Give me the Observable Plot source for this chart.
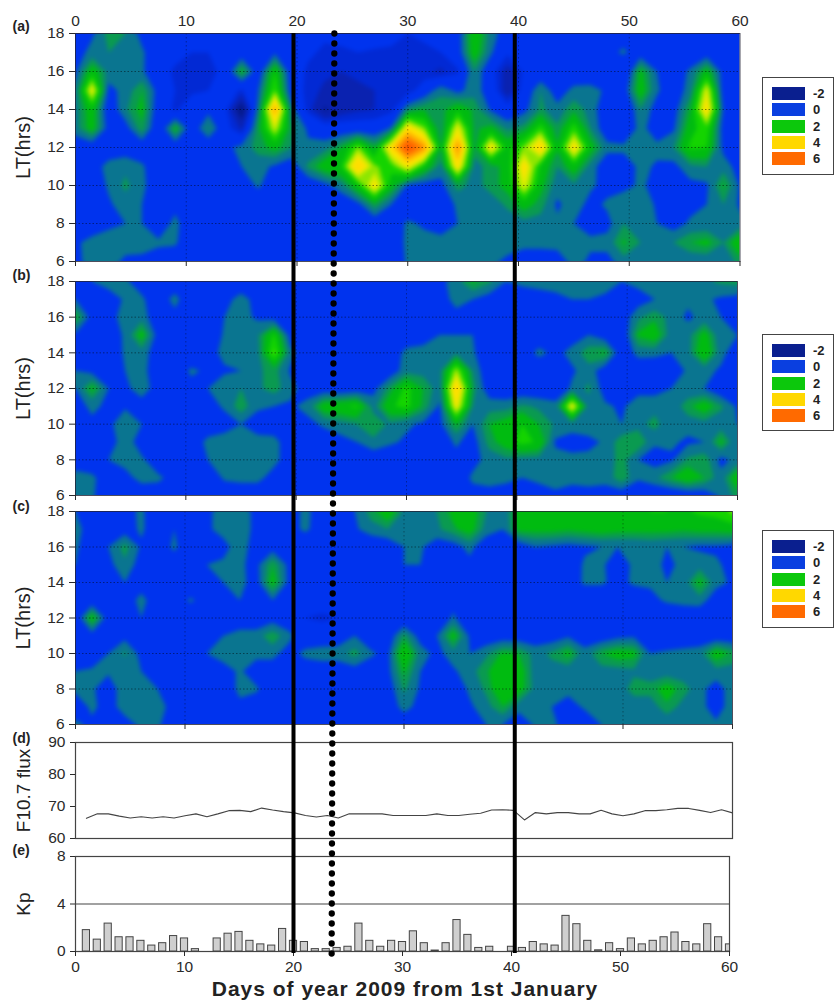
<!DOCTYPE html>
<html>
<head>
<meta charset="utf-8">
<script src="https://cdn.jsdelivr.net/npm/d3@7"></script>
<script src="https://cdn.jsdelivr.net/npm/@observablehq/plot@0.6"></script>
<style>
html,body{margin:0;padding:0;background:#fff}
#page{position:relative;width:837px;height:1002px;overflow:hidden;font-family:"Liberation Sans",Arial,sans-serif}
#page svg{position:absolute;left:0;background:transparent;overflow:visible}
.legend{position:absolute;left:762px;width:72px;box-sizing:border-box;border:1.5px solid #444;background:#fff}
.legend div{position:absolute;left:9px;width:33px;height:13px}
.legend span{position:absolute;left:50px;font-size:13px;line-height:13px;color:#222;font-weight:bold}
#xtitle{position:absolute;left:0;width:810px;text-align:center;top:977px;font-size:21px;letter-spacing:1px;font-weight:bold;color:#222}
</style>
</head>
<body>
<div id="page"></div>
<script>
// Grid: 41 columns from day 0 to day 60 (every 1.5 days); 13 rows from 18 LT down to 6 LT
const gridColumns = 41;
const gridRows = 13;
const dayTicks = [0,10,20,30,40,50,60];
const hourTicks = [6,8,10,12,14,16,18];
const fluxTicks = [60,70,80,90];
const kpTicks = [0,4,8];
const legendLabels = ["-2","0","2","4","6"];
const legendColors = ["#0a1f8f","#0a3fe0","#0cc80c","#ffd800","#ff6a00"];
const levelFloor = -3;
const levelBreaks = [-1.2,-.6,-.2,.7,1.2,1.6,2.2,2.7,3.1,3.5,4.3,5,5.7];
const levelColors = ["#051a8c","#0a22b0","#0229d4","#0033ee","#0a7590","#0a9a50","#00bb10","#14d400","#8ee600","#d8ee00","#ffe000","#ffb000","#ff7a00","#ff5a00"];

const panelA = [
[.3,.6,1.4,1.2,.5,.2,.2,0,-.1,0, .1,.1,.2,.1,0,-.1,0,.2,.2,0, -.2,-.1,0,.3,2.2,1,.3,.1,0,0, 0,0,.2,.4,.1,.1,.1,.1,.3,.3, .3],
[.4,.9,1.2,1.1,.8,.2,0,-.2,-.2,-.1, .2,.2,.6,.2,-.1,-.3,-.3,-.2,-.3,-.3, -.4,-.3,-.2,.3,2,.8,-.1,0,.1,.2, .2,.3,.5,.8,.3,.2,.2,.2,.3,.3, .4],
[.6,2,1,1,.8,.1,-.3,-.4,-.4,0, 1.8,.2,2.2,.2,-.3,-.5,-.6,-.5,-.5,-.4, -.5,-.5,-.7,-.3,1.2,.1,-.9,-.1,.1,.2, .1,.2,.2,-.2,1.8,.7,.3,.8,1.9,.4, .7],
[.9,3.6,.5,.9,1.6,.4,-.2,-.3,-.2,.2, -.3,.7,2.7,.3,-.4,-.7,-.8,-.7,-.6,-.5, -.5,.2,1.1,.5,1,.3,-1,.1,1.2,.3, .9,.9,.6,.3,2,.8,.2,1,3.4,.3, .5],
[1,2,.2,1.1,1.8,.2,-.3,.2,.5,0, -1.8,1,4.8,1,-.4,-1.3,-.9,-.7,-.6,-.4, 1.2,1.6,1.4,2.1,1.5,.6,.1,.5,1.3,.9, 1.5,1,.2,-.2,1.2,.4,.4,1.6,4,.6, .1],
[1,1.9,.4,.4,1.5,0,1.8,.2,1.3,.1, -.7,1.5,3.2,1.3,.6,.2,.2,.2,.2,.8, 4,2.8,1.2,3.5,1.5,1.8,1.1,1.4,2.5,1.3, 2.5,1.2,.2,-.2,1,.2,.6,2,2.5,.4, .1],
[.2,.2,.3,.3,.2,.1,.2,.1,.1,.5, .9,1.4,1.8,1.2,.8,1,1.6,2.8,1.6,4, 6.4,5,1.6,5.2,1.4,3.8,2,2.8,4.2,1.7, 3.9,1.9,.9,.9,1.2,.9,1.2,2.3,2.2,.5, .3],
[.2,.4,.9,1.1,.8,.2,-.1,.1,.1,.4, .7,.9,.6,.3,1.3,2,2.2,4.4,2.8,2.4, 3.6,2.1,1,3.9,1,1.4,1.8,3.9,2.1,1.2, 2,1,.2,.2,.9,.6,.5,1.1,1.2,1, .4],
[.5,.2,.8,1.3,.9,.1,.1,.1,.1,.1, .3,.8,.2,.1,.2,.5,1,2.1,3.8,1.9, .6,.4,.5,1.4,1,1.4,1.8,3.4,1.8,.9, 1.1,.8,.5,.5,.8,.5,.2,.5,.6,1.7, .6],
[.2,.2,.6,1,.7,.2,.5,.1,.1,.3, .7,.2,.2,.1,.1,.1,.2,.5,1.5,.7, .2,.2,.3,.8,.7,.9,1.3,1.9,1.4,.6, 1,.5,.8,1.1,1.1,.6,.6,.5,.7,1.2, .6],
[.2,.3,.6,.7,.7,.2,.9,.1,.1,.1, .2,.1,.1,.1,.1,.1,.1,.1,.2,.3, .8,.6,.4,.7,.8,.8,.9,1,1,.8, .7,.5,.5,1.2,1.1,.7,.4,.8,.8,.8, .9],
[.6,.9,.9,.9,1,.8,.8,.1,.2,.2, .4,.1,.1,.1,.1,.1,.1,.1,.2,.4, .8,.9,.9,1.1,1.2,.9,.9,.9,.9,.9, .9,.8,.9,1.7,1.2,1,1.2,1.6,1.8,1.2, 2.2],
[.5,1,.9,.6,.5,.4,.2,.1,.2,.2, .2,.2,.2,.1,.1,.1,.1,.1,.1,.2, .8,.8,.8,.8,.8,.8,.6,.3,.3,.4, .9,.6,.5,1,.8,.7,.7,.8,.8,.8, 1.4]
];
const panelB = [
[.5,.7,1,.8,.4,.3,.3,.2,.3,.5, .3,.5,.2,.2,.2,.2,.2,.2,.2,.2, .3,.3,.5,1,1.7,1.3,.7,.9,1,1, .9,.9,1.1,.7,.9,1.1,1.1,1.2,1.1,1.3, 1.4],
[.7,.2,.3,.8,.8,.3,.9,.2,.1,.5, .9,.5,.2,.1,.1,.1,.1,.2,.1,.1, .3,.2,.4,.9,.7,.4,.2,.2,.3,.5, .7,.7,.5,.4,.4,.7,.8,.8,.8,.6, .5],
[1.7,.4,.3,1.1,1,.2,.5,.2,.1,.7, .9,.6,.4,.1,.1,.1,.1,.2,.1,.1, .2,.1,.2,.5,.3,.1,.1,.1,.1,.2, .3,.5,.2,.3,1.1,1.5,1,.6,.9,.7, .5],
[.6,.2,.3,.8,1.9,.4,.2,.1,.1,.8, .9,1.1,2.3,.4,.1,.1,.1,.1,.1,.1, .2,.3,.7,.7,.7,.1,.1,.1,.2,.2, .4,.7,.3,.1,1.7,2,.9,1,1.9,.8, .7],
[.6,.5,.2,.8,1,.3,.4,.2,.4,.9, .9,1,2.8,.9,.2,.1,.1,.1,.2,.2, .9,1,.9,1.1,.8,.1,.1,.2,.9,.5, .9,1.5,1.7,.2,.9,.9,.7,1,2.2,.9, .3],
[.7,.5,.2,.7,.9,.3,.3,.8,.6,.6, .7,1.1,1.4,.6,.1,.1,.1,.1,.1,.3, 1,1,1,3,1.2,.1,.1,.1,.1,.1, .6,1,.3,.1,.2,.1,.3,.8,.9,.6, .3],
[.7,1.8,.7,.6,.9,.5,.5,.5,.7,1.1, 1.2,1.1,1.4,.9,.4,.3,.2,.3,.5,1.4, 2.4,1.6,.9,4.4,1.4,.3,.2,.2,.2,.2, .8,1.3,.4,.3,.5,.5,.7,.8,.7,.2, .2],
[.5,.8,.6,.6,.5,.5,.4,.3,.4,.8, 1.5,.8,.7,.6,.9,2,2.1,2.3,1,2.1, 2.4,1.5,.6,3.6,1.2,1,1,1.3,1.1,.9, 3.6,1,.8,.6,1,1,.8,1.5,2,1.3, .6],
[.4,.6,.5,1.2,.7,.3,.3,.2,.2,.4, .7,.4,.3,.4,.5,.8,1,1.2,1.5,1.1, .8,.6,.5,1.7,.7,1.6,1.9,2.2,1.6,1.1, 1,1.1,.8,.7,1,1.4,.7,.9,1,.9, .7],
[.5,.3,.4,1,.4,.2,.3,.2,.9,1, .9,.9,.9,.3,.3,.3,.5,.7,1.1,.8, .6,.3,.3,.8,.4,1.4,1.9,2.4,2.1,.6, .4,.5,.8,1.5,1.6,.8,.8,.6,.7,1.8, .7],
[.4,.3,.7,.9,.8,.3,.2,.2,.7,1.1, 1,1.1,.9,.3,.3,.4,.2,.1,.2,.2, .2,.2,.4,.5,.5,.9,1.1,1,1,.9, .9,.9,.9,1.4,.7,.4,.6,1.3,1.5,.5, .9],
[.9,.8,.4,.5,.9,.8,.5,.2,.2,.8, .9,.9,.4,.2,.2,.2,.2,.1,.1,.2, .3,.2,.3,.3,.8,1,.9,.7,.8,.9, .9,.9,.9,1.5,.8,1.1,1.6,2.1,1.6,.9, 2.1],
[1.1,.8,.2,.2,.3,.4,.7,.2,.2,.2, .2,.2,.2,.1,.1,.1,.1,.1,.1,.2, .2,.3,.3,.4,.5,.4,.3,.1,.5,.6, .4,.5,.4,.3,.1,.1,.1,.2,.3,.8, 1.4]
];
const panelC = [
[.7,.5,.3,.5,.8,.3,.7,.4,.6,.9, .9,.6,.3,.5,.8,.5,.6,.7,1.4,2.1, 1.1,.8,1.2,1.8,2,1.2,.8,1.9,2,2, 1.9,1.9,2.1,2.1,2.1,2.2,2.2,2.1,2.3,2.4, 2.8],
[.9,.4,.4,.4,.8,.3,.7,.4,.6,.9, 1.1,.5,.3,.5,.8,.4,.4,.6,1,1.2, .9,.7,1.1,1.5,1.9,1,.7,1.8,1.8,1.8, 1.7,1.8,1.9,1.8,1.8,1.8,1.8,1.7,1.8,1.8, 1.9],
[.8,.3,.7,1.4,.6,.3,.8,.3,.4,.5, 1,.4,.4,.2,.2,.2,.1,.1,.1,.2, .7,.8,.3,.4,.9,.2,.1,.3,.7,.6, .5,.6,.7,.7,.7,.8,.7,.7,.6,.6, .5],
[.7,.3,.5,1.1,.4,.2,.4,.2,.7,.8, .8,.5,1.6,.5,.6,.2,.1,.1,.1,.2, .7,.7,.3,.3,.5,.1,.1,.3,.7,.4, .2,.8,.8,.4,.8,.9,.6,.8,1,.8, .5],
[.5,.2,.6,.7,.4,.2,.2,.1,.5,.7, .9,.4,1.9,.5,.7,.2,.1,.1,.1,.2, .5,.3,.2,.2,.3,.1,.1,.1,.3,.3, .3,.8,.8,.5,.8,.8,.7,.9,1.8,.9, .6],
[.1,.2,.2,.3,.9,.3,.3,.8,.4,.2, .7,.2,.7,.2,.1,.1,.1,.1,.1,.1, .2,.2,.5,.5,.1,.1,.1,.1,.1,.2, .7,.1,.1,.1,.2,.5,.8,.9,1,.3, .2],
[.1,2,.3,.3,.7,.1,.1,.1,.1,.1, .1,.1,.4,.1,-.2,-.3,-.2,-.1,-.1,-.1, .1,.1,.1,.8,.1,.1,.1,.1,.1,.1, .2,.1,.1,.1,.1,.1,.1,.2,.1,.1, .1],
[.2,.4,.3,.5,.5,.2,.2,.3,.2,.7, 1,1,1.5,.9,.1,.2,.3,.7,.2,.2, 1.4,.4,.7,1.9,.6,.2,.3,.3,.3,.3, .6,.3,.2,.5,.6,.2,.2,.2,.2,.2, .2],
[.2,.2,.7,1.3,.5,.3,.2,.2,.7,1, 1,.9,.9,.4,.9,1,1,1.4,.8,.5, 2.3,1,.5,1,.7,1.1,1.7,1.6,1,1.3, 1.8,.9,1.6,1.9,1.8,.7,.8,.9,1,2, 1.5],
[.7,.8,.8,.7,.7,.6,.3,.2,.2,.4, .8,.3,.3,.2,.2,.3,.3,.4,.3,.5, 1.7,.7,.5,.6,1,1.5,2.2,2,.9,1, .9,.9,1,1,1.1,.9,.9,.9,.9,1, 1],
[.8,.8,.3,1.1,.8,.7,.3,.2,.2,.4, .8,.8,.2,.2,.2,.2,.2,.2,.2,.3, 1.3,.6,.2,.3,.8,1.3,2.2,1.9,1,.9, .9,.9,.9,.9,1.4,1.4,1.9,1.4,.9,.4, 1],
[.4,.8,.5,.9,.9,.9,.5,.2,.2,.3, .6,.3,.3,.2,.2,.2,.2,.2,.1,.3, .9,.5,.2,.3,.6,1,1.6,.9,.9,.7, .4,.8,.9,.9,.9,.9,1.5,1,.9,.4, 1],
[.8,.6,.3,.5,.8,.8,.3,.2,.2,.2, .2,.2,.2,.1,.1,.1,.1,.1,.1,.1, .3,.3,.2,.2,.2,.7,.7,.3,.8,.9, .3,.2,.7,.8,.8,.8,.8,.8,.8,.8, .9]
];
// F10.7 flux, days 1..60
const f107 = [66.3,67.7,67.7,67,66.4,66.8,66.4,66.8,66.4,67.1,
  67.7,66.8,67.7,68.7,68.8,68.4,69.5,68.9,68.4,68,
  67.2,66.7,67.2,66.4,67.7,67.7,67.7,67.7,67.2,67.2,
  67.2,67.2,67.7,67.2,67.2,67.6,67.9,68.9,69,68.8,
  65.8,68.1,67.7,68.1,68.1,67.7,67.7,68.8,67.7,67.1,
  67.7,68.7,68.7,69,69.4,69.4,68.8,68.1,69,68];
// Kp index, days 1..60
const kp = [1.8,1,2.35,1.2,1.2,.9,.5,.7,1.3,1.1,
  .2,0,1.1,1.5,1.65,.9,.6,.5,1.9,.9,
  .8,.2,.2,.3,.4,2.35,.9,.4,.9,.8,
  1.7,.7,.08,.7,2.65,1.4,.3,.4,0,.4,
  .3,.8,.6,.5,3,2.3,.9,.1,.7,.2,
  1.1,.6,.9,1.2,1.6,.8,.6,2.3,1.2,.6];
const eventDays = [20,40.3];
const stormPath = [{day:23.75,span:1},{day:23.5,span:0}];

const page = document.getElementById("page");
const font = {fontFamily:"'Liberation Sans',Arial,sans-serif",fontSize:"15px",color:"#2a2a2a",background:"transparent",overflow:"visible"};
const hourGrid = hourTicks.slice(1,-1);
const levels = [levelFloor, ...levelBreaks];
const flatDays = d3.range(1,61);
const tickFont = 15.5;
const sideLabel = (t, size) => Plot.text([t],{frameAnchor:"left",textAnchor:"middle",rotate:-90,dx:-52,fontSize:size,fill:"#222"});
const letterLabel = (t, dy) => Plot.text([t],{frameAnchor:"top-left",textAnchor:"start",dx:-63,dy,fontSize:14,fontWeight:"bold",fill:"#222"});

function place(svg, top){ svg.style.top = top+"px"; page.appendChild(svg); return svg; }

function heatPanel({rows, top, bottom, right, letter, letterDy, label, topAxis}){
  if (rows.flat().length !== gridColumns*gridRows) throw new Error(letter+" grid size "+rows.map(r=>r.length));
  const svgTop = Math.max(0, top-30);
  const svg = Plot.plot({
    width:837, height:bottom+14-svgTop,
    marginLeft:75, marginRight:837-right, marginTop:top-svgTop, marginBottom:14,
    style:font,
    x:{domain:[0,60], axis:null},
    y:{domain:[6,18], axis:null},
    color:{type:"threshold", domain:levelBreaks, range:levelColors},
    marks:[
      Plot.contour(rows.flat(), {
        width:gridColumns, height:gridRows,
        x1:-0.75, x2:60.75, y1:18.5, y2:5.5,
        fill:Plot.identity, thresholds:levels, clip:true
      }),
      Plot.gridY(hourGrid,{stroke:"#000",strokeOpacity:.45,strokeDasharray:"1.5 2"}),
      Plot.gridX(dayTicks.slice(1,-1),{stroke:"#000",strokeOpacity:.35,strokeDasharray:"1.5 2.5"}),
      Plot.frame({stroke:"#223",strokeOpacity:.8}),
      Plot.axisY({ticks:hourTicks,tickSize:6,tickPadding:5,label:null,fontSize:tickFont}),
      Plot.axisX({anchor:"bottom",ticks:dayTicks,tickSize:5,tickFormat:()=>"",label:null}),
      ...(topAxis?[Plot.axisX({anchor:"top",ticks:dayTicks,tickSize:0,tickPadding:8,label:null,fontSize:tickFont})]:[]),
      sideLabel(label, 20),
      letterLabel(letter, letterDy)
    ]
  });
  svg.querySelectorAll('g[aria-label="contour"]').forEach(g=>g.style.filter="blur(2px)");
  return place(svg, svgTop);
}

function legend(top, height){
  const box = document.createElement("div");
  box.className = "legend";
  box.style.top = top+"px";
  box.style.height = height+"px";
  legendLabels.forEach((t,i)=>{
    const s = document.createElement("div");
    s.style.top = (9+i*16.3)+"px";
    s.style.background = legendColors[i];
    const l = document.createElement("span");
    l.style.top = (9+i*16.3)+"px";
    l.textContent = t;
    box.append(s,l);
  });
  page.appendChild(box);
}

heatPanel({rows:panelA, top:33, bottom:261, right:739.5, letter:"(a)", letterDy:-12, label:"LT(hrs)", topAxis:true});
heatPanel({rows:panelB, top:281, bottom:495, right:737, letter:"(b)", letterDy:-11, label:"LT(hrs)"});
heatPanel({rows:panelC, top:511, bottom:724, right:732, letter:"(c)", letterDy:-10, label:"LT(hrs)"});

// (d) F10.7
place(Plot.plot({
  width:837, height:125,
  marginLeft:75, marginRight:105, marginTop:742-725, marginBottom:125-(838-725),
  style:font,
  x:{domain:[0,60],axis:null},
  y:{domain:[60,90],axis:null},
  marks:[
    Plot.frame({stroke:"#444",strokeWidth:1.2}),
    Plot.axisY({ticks:fluxTicks,tickSize:5,tickPadding:5,label:null,fontSize:tickFont}),
    Plot.lineY(f107,{x:flatDays,y:Plot.identity,stroke:"#444",strokeWidth:1.1}),
    sideLabel("F10.7 flux", 19),
    letterLabel("(d)", -9)
  ]
}), 725);

// (e) Kp
place(Plot.plot({
  width:837, height:140,
  marginLeft:75, marginRight:108, marginTop:856-840, marginBottom:140-(951-840),
  style:font,
  x:{domain:[0,60],axis:null},
  y:{domain:[0,8],axis:null},
  marks:[
    Plot.frame({stroke:"#444",strokeWidth:1.2}),
    Plot.ruleY([4],{stroke:"#444",strokeWidth:1.2}),
    Plot.rectY(kp,{x1:(d,i)=>flatDays[i]-.33,x2:(d,i)=>flatDays[i]+.33,y1:0,y2:Plot.identity,fill:"#cfcfcf",stroke:"#444",strokeWidth:1,clip:true}),
    Plot.axisY({ticks:kpTicks,tickSize:5,tickPadding:5,label:null,fontSize:tickFont}),
    Plot.axisX({anchor:"bottom",ticks:dayTicks,tickSize:5,tickPadding:4,label:null,fontSize:tickFont}),
    sideLabel("Kp", 19),
    letterLabel("(e)", -11)
  ]
}), 840);

// event markers across all panels
place(Plot.plot({
  width:837, height:1002,
  marginLeft:75, marginRight:108, marginTop:33, marginBottom:49,
  style:font,
  x:{domain:[0,60],axis:null},
  y:{domain:[0,1],axis:null},
  marks:[
    Plot.ruleX(eventDays,{stroke:"#000",strokeWidth:4}),
    Plot.line(stormPath,{x:"day",y:"span",stroke:"#000",strokeWidth:6.3,strokeLinecap:"round",strokeDasharray:"0 10"})
  ]
}), 0);

legend(77,98);
legend(334,97);
legend(530,98);

const xt = document.createElement("div");
xt.id = "xtitle";
xt.textContent = "Days of year 2009 from 1st January";
page.appendChild(xt);
</script>
</body>
</html>
